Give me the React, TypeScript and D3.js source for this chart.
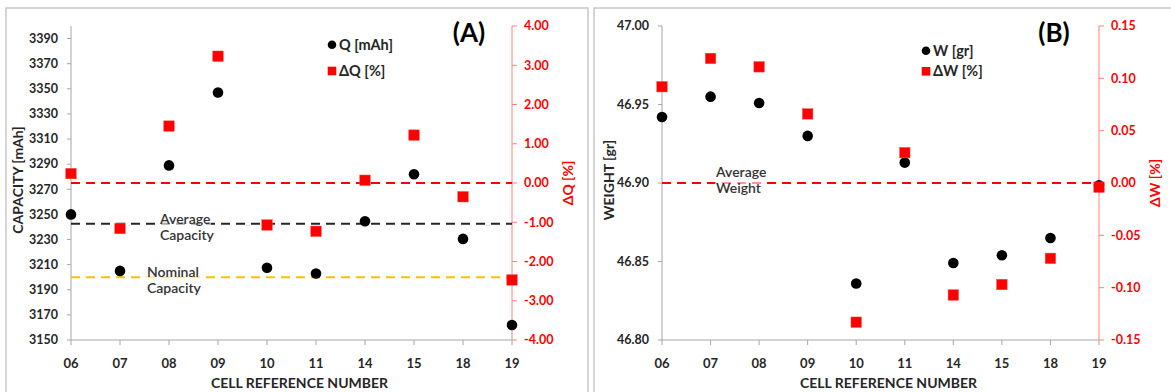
import React from "react";
import * as d3 from "d3";

// ---------- DATA ----------
const cells = ["06", "07", "08", "09", "10", "11", "14", "15", "18", "19"];
const capacity = [3250, 3205, 3289, 3347, 3207.5, 3203, 3244.5, 3282, 3230.5, 3162];
const deltaQ = [0.24, -1.16, 1.45, 3.23, -1.07, -1.23, 0.07, 1.22, -0.35, -2.47];
const weight = [46.942, 46.955, 46.951, 46.93, 46.836, 46.913, 46.849, 46.854, 46.865, 46.8985];
const deltaW = [0.092, 0.119, 0.111, 0.066, -0.133, 0.029, -0.107, -0.097, -0.072, -0.004];
const avgCapacity = 3242.5;
const nominalCapacity = 3200;
const avgWeight = 46.9;
const capacityTicks = [3150, 3170, 3190, 3210, 3230, 3250, 3270, 3290, 3310, 3330, 3350, 3370, 3390];
const deltaQTicks = [-4, -3, -2, -1, 0, 1, 2, 3, 4];
const weightTicks = [46.8, 46.85, 46.9, 46.95, 47.0];
const deltaWTicks = [-0.15, -0.1, -0.05, 0, 0.05, 0.1, 0.15];

const FONT = "Lato, 'Open Sans', sans-serif";
const RED = "#ff0000";
const DARK = "#262626";

const fmt2 = (v: number) => (Math.abs(v) < 1e-9 ? 0 : v).toFixed(2);

type Line = { value: number; color: string; axis: "left" | "right" };
type Label = { x: number; y: number; lines: string[]; w: number };

interface PanelProps {
  frameX: number;
  x0: number;
  x1: number;
  leftDomain: [number, number];
  rightDomain: [number, number];
  leftTicks: number[];
  rightTicks: number[];
  leftFmt: (v: number) => string;
  leftValues: number[];
  rightValues: number[];
  leftTitle: string;
  rightTitle: string;
  tag: string;
  tagX: number;
  legend: { x: number; y1: number; y2: number; t1: string; t2: string };
  lines: Line[];
  labels: Label[];
}

const TOP = 26;
const BOTTOM = 340;

function Panel(p: PanelProps) {
  const x = d3.scalePoint<string>().domain(cells).range([p.x0, p.x1]).padding(0);
  const yl = d3.scaleLinear().domain(p.leftDomain).range([BOTTOM, TOP]);
  const yr = d3.scaleLinear().domain(p.rightDomain).range([BOTTOM, TOP]);
  const cy = (TOP + BOTTOM) / 2;
  const midX = (p.x0 + p.x1) / 2 + 8;
  const sq = 10.5;
  return (
    <g>
      <rect x={p.frameX} y={8} width={582} height={420} fill="white" stroke="#c8c8c8" strokeWidth={1.5} />
      {/* axes */}
      <line x1={p.x0} x2={p.x0} y1={TOP} y2={BOTTOM} stroke="#a6a6a6" strokeWidth={1} />
      <line x1={p.x0} x2={p.x1} y1={BOTTOM} y2={BOTTOM} stroke="#a6a6a6" strokeWidth={1} />
      <line x1={p.x1} x2={p.x1} y1={TOP} y2={BOTTOM} stroke="#ff8080" strokeWidth={1} />
      {p.leftTicks.map((t) => (
        <g key={"l" + t}>
          <line x1={p.x0 - 4} x2={p.x0} y1={yl(t)} y2={yl(t)} stroke="#a6a6a6" />
          <text x={p.x0 - 13} y={yl(t) + 4.3} textAnchor="end" fontFamily={FONT} fontWeight="bold" fontSize={12.5} fill={DARK}>
            {p.leftFmt(t)}
          </text>
        </g>
      ))}
      {p.rightTicks.map((t) => (
        <g key={"r" + t}>
          <line x1={p.x1} x2={p.x1 + 5} y1={yr(t)} y2={yr(t)} stroke="#ff8080" />
          <text x={p.x1 + 12} y={yr(t) + 4.3} textAnchor="start" fontFamily={FONT} fontWeight="bold" fontSize={12.5} fill={RED}>
            {fmt2(t)}
          </text>
        </g>
      ))}
      {cells.map((c) => (
        <g key={"x" + c}>
          <line x1={x(c)} x2={x(c)} y1={BOTTOM} y2={BOTTOM + 5} stroke="#a6a6a6" />
          <text x={x(c)} y={368} textAnchor="middle" fontFamily={FONT} fontWeight="bold" fontSize={13} fill={DARK}>
            {c}
          </text>
        </g>
      ))}
      {/* titles */}
      <text x={midX} y={388} textAnchor="middle" fontFamily={FONT} fontWeight="bold" fontSize={14} fill={DARK}>
        CELL REFERENCE NUMBER
      </text>
      <text
        transform={`translate(${p.x0 - 53},${cy - 3}) rotate(-90)`}
        textAnchor="middle"
        dy="0.35em"
        fontFamily={FONT}
        fontWeight="bold"
        fontSize={14}
        fill={DARK}
      >
        {p.leftTitle}
      </text>
      <text
        transform={`translate(${p.x1 + 56},${cy}) rotate(-90)`}
        textAnchor="middle"
        dy="0.35em"
        fontFamily={FONT}
        fontWeight="bold"
        fontSize={14}
        fill={RED}
      >
        {p.rightTitle}
      </text>
      <text x={p.tagX} y={42} textAnchor="middle" fontFamily={FONT} fontWeight="bold" fontSize={26} fill="#000">
        {p.tag}
      </text>
      {/* reference lines */}
      {p.lines.map((l, i) => {
        const yy = l.axis === "left" ? yl(l.value) : yr(l.value);
        return <line key={"d" + i} x1={p.x0} x2={p.x1} y1={yy} y2={yy} stroke={l.color} strokeWidth={2} strokeDasharray="9,6" />;
      })}
      {/* labels */}
      {p.labels.map((lb, i) => (
        <g key={"lb" + i}>
          <rect x={lb.x - 1} y={lb.y - 11} width={lb.w} height={lb.lines.length * 16 + 2} fill="white" opacity={0.6} />
          {lb.lines.map((s, j) => (
            <text key={j} x={lb.x} y={lb.y + j * 16} fontFamily={FONT} fontWeight={600} fontSize={14} fill="#333">
              {s}
            </text>
          ))}
        </g>
      ))}
      {/* points */}
      {p.leftValues.map((v, i) => (
        <circle key={"c" + i} cx={x(cells[i])} cy={yl(v)} r={5.3} fill="#000" />
      ))}
      {p.rightValues.map((v, i) => (
        <rect key={"s" + i} x={(x(cells[i]) as number) - sq / 2} y={yr(v) - sq / 2} width={sq} height={sq} fill={RED} stroke="#ff5050" strokeWidth={0.5} />
      ))}
      {/* legend */}
      <circle cx={p.legend.x} cy={p.legend.y1} r={4.3} fill="#000" />
      <text x={p.legend.x + 7} y={p.legend.y1 + 5} fontFamily={FONT} fontWeight="bold" fontSize={14.5} fill={DARK}>
        {p.legend.t1}
      </text>
      <rect x={p.legend.x - 4.3} y={p.legend.y2 - 4.3} width={8.6} height={8.6} fill={RED} />
      <text x={p.legend.x + 7} y={p.legend.y2 + 5} fontFamily={FONT} fontWeight="bold" fontSize={14.5} fill={DARK}>
        {p.legend.t2}
      </text>
    </g>
  );
}

export default function App() {
  return (
    <svg width={1171} height={392} style={{ position: "absolute", left: 0, top: 0, background: "white" }}>
      <rect width={1171} height={392} fill="white" />
      <Panel
        frameX={6}
        x0={71}
        x1={512}
        leftDomain={[3150, 3400]}
        rightDomain={[-4, 4]}
        leftTicks={capacityTicks}
        rightTicks={deltaQTicks}
        leftFmt={(v) => String(v)}
        leftValues={capacity}
        rightValues={deltaQ}
        leftTitle="CAPACITY [mAh]"
        rightTitle="ΔQ [%]"
        tag="(A)"
        tagX={469}
        legend={{ x: 332, y1: 44.7, y2: 71, t1: "Q [mAh]", t2: "ΔQ [%]" }}
        lines={[
          { value: 0, color: RED, axis: "right" },
          { value: avgCapacity, color: "#262626", axis: "left" },
          { value: nominalCapacity, color: "#ffc000", axis: "left" },
        ]}
        labels={[
          { x: 160, y: 224, lines: ["Average", "Capacity"], w: 52 },
          { x: 147, y: 276.5, lines: ["Nominal", "Capacity"], w: 54 },
        ]}
      />
      <Panel
        frameX={594}
        x0={662}
        x1={1099}
        leftDomain={[46.8, 47.0]}
        rightDomain={[-0.15, 0.15]}
        leftTicks={weightTicks}
        rightTicks={deltaWTicks}
        leftFmt={fmt2}
        leftValues={weight}
        rightValues={deltaW}
        leftTitle="WEIGHT [gr]"
        rightTitle="ΔW [%]"
        tag="(B)"
        tagX={1054}
        legend={{ x: 926, y1: 50.7, y2: 71.3, t1: "W [gr]", t2: "ΔW [%]" }}
        lines={[{ value: 0, color: RED, axis: "right" }]}
        labels={[{ x: 716, y: 176.5, lines: ["Average", "Weight"], w: 52 }]}
      />
    </svg>
  );
}
